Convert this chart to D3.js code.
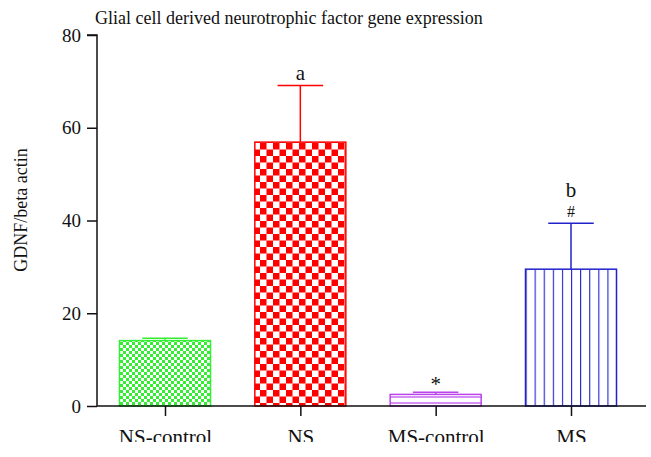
<!DOCTYPE html>
<html>
<head>
<meta charset="utf-8">
<script src="https://cdn.jsdelivr.net/npm/d3@7"></script>
<style>
  body { margin: 0; background: #fff; }
  text { font-family: "Liberation Serif", "DejaVu Serif", serif; fill: #111; }
</style>
</head>
<body>
<div id="chart"></div>
<script>
// group names, means, upper error values and the little letters over the bars
var groups = ["NS-control", "NS", "MS-control", "MS"],
    means  = [14.1, 56.9, 2.5, 29.5],
    upper  = [14.6, 69.1, 2.95, 39.4],
    marks  = [[], ["a"], ["*"], ["b", "#"]],
    yTicks = [0, 20, 40, 60, 80];

var colors = ["#33ee33", "#ff0000", "#bb44ee", "#2222cc"];

var width = 651, height = 457;

var svg = d3.select("#chart").append("svg")
    .attr("width", width)
    .attr("height", height);

var x = d3.scalePoint().domain(groups).range([165, 571]),
    y = d3.scaleLinear().domain([0, 80]).range([406, 35]),
    barW = 91;

// fill patterns, one per bar
var defs = svg.append("defs");

var p0 = defs.append("pattern").attr("id", "pat0")
    .attr("patternUnits", "userSpaceOnUse").attr("width", 6).attr("height", 6);
p0.append("rect").attr("width", 6).attr("height", 6).attr("fill", "#fff");
p0.append("rect").attr("width", 3).attr("height", 3).attr("fill", colors[0]);
p0.append("rect").attr("x", 3).attr("y", 3).attr("width", 3).attr("height", 3).attr("fill", colors[0]);

var p1 = defs.append("pattern").attr("id", "pat1")
    .attr("patternUnits", "userSpaceOnUse").attr("width", 13).attr("height", 13);
p1.append("rect").attr("width", 13).attr("height", 13).attr("fill", "#fff");
p1.append("rect").attr("width", 6.5).attr("height", 6.5).attr("fill", colors[1]);
p1.append("rect").attr("x", 6.5).attr("y", 6.5).attr("width", 6.5).attr("height", 6.5).attr("fill", colors[1]);

var p2 = defs.append("pattern").attr("id", "pat2")
    .attr("patternUnits", "userSpaceOnUse").attr("width", 10).attr("height", 6);
p2.append("rect").attr("width", 10).attr("height", 6).attr("fill", "#fff");
p2.append("line").attr("x1", 0).attr("x2", 10).attr("y1", 1).attr("y2", 1)
    .attr("stroke", colors[2]).attr("stroke-width", 1.2);

var p3 = defs.append("pattern").attr("id", "pat3")
    .attr("patternUnits", "userSpaceOnUse").attr("width", 9.1).attr("height", 10)
    .attr("x", x("MS") - barW / 2);
p3.append("rect").attr("width", 9.1).attr("height", 10).attr("fill", "#fff");
p3.append("line").attr("x1", 0.5).attr("x2", 0.5).attr("y1", 0).attr("y2", 10)
    .attr("stroke", colors[3]).attr("stroke-width", 1.2);

// error bars (drawn first so bar covers the stem)
groups.forEach(function(g, i) {
  var cx = x(g);
  svg.append("line")
     .attr("x1", cx).attr("x2", cx)
     .attr("y1", y(means[i])).attr("y2", y(upper[i]))
     .attr("stroke", colors[i]).attr("stroke-width", 1.5);
  svg.append("line")
     .attr("x1", cx - barW / 4).attr("x2", cx + barW / 4)
     .attr("y1", y(upper[i])).attr("y2", y(upper[i]))
     .attr("stroke", colors[i]).attr("stroke-width", 1.5);
});

svg.selectAll(".bar").data(groups).enter().append("rect")
    .attr("class", "bar")
    .attr("x", function(d) { return x(d) - barW / 2; })
    .attr("y", function(d, i) { return y(means[i]); })
    .attr("width", barW)
    .attr("height", function(d, i) { return y(0) - y(means[i]); })
    .attr("fill", function(d, i) { return "url(#pat" + i + ")"; })
    .attr("stroke", function(d, i) { return colors[i]; })
    .attr("stroke-width", 1.5);

// letters above error bars (gap above the cap, in px)
var gap = { "a": 6, "*": 1, "b": 26, "#": 6 };
groups.forEach(function(g, i) {
  marks[i].forEach(function(t) {
    svg.append("text")
       .attr("x", x(g)).attr("y", y(upper[i]) - gap[t])
       .attr("text-anchor", "middle")
       .attr("font-size", t === "#" ? 16 : 21)
       .text(t);
  });
});

// y axis
var yAxis = svg.append("g")
    .attr("transform", "translate(97,0)")
    .call(d3.axisLeft(y).tickValues(yTicks).tickSize(10).tickPadding(6));
yAxis.selectAll("text").attr("font-size", 19).attr("font-family", "Liberation Serif");
yAxis.selectAll("line, path").attr("stroke", "#111").attr("stroke-width", 1.5);
yAxis.select(".domain").attr("d", "M-10," + y(80) + "H0V" + y(0));

// x axis
var xAxis = svg.append("g")
    .attr("transform", "translate(0,406)")
    .call(d3.axisBottom(x).tickSize(10).tickPadding(13));
xAxis.select(".domain").attr("d", "M97,0H646");
xAxis.selectAll("line, path").attr("stroke", "#111").attr("stroke-width", 1.5);
xAxis.selectAll("text").attr("font-size", 21).attr("font-family", "Liberation Serif");

// the source picture is cut off under the x labels
svg.append("rect").attr("x", 0).attr("y", 442).attr("width", width).attr("height", 15).attr("fill", "#fff");

svg.append("text")
   .attr("x", 95).attr("y", 24)
   .attr("font-size", 18)
   .text("Glial cell derived neurotrophic factor gene expression");

svg.append("text")
   .attr("transform", "translate(27,210) rotate(-90)")
   .attr("text-anchor", "middle")
   .attr("font-size", 18)
   .text("GDNF/beta actin");
</script>
</body>
</html>
